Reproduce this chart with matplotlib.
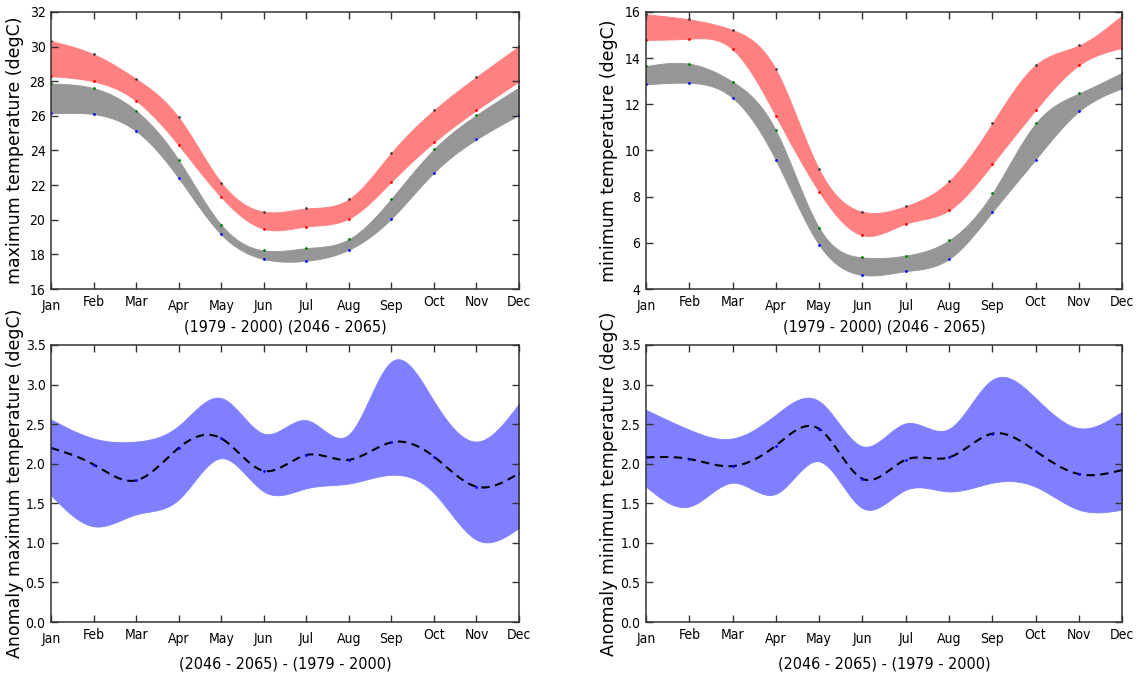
import numpy as np
import matplotlib
matplotlib.use('Agg')
import matplotlib.pyplot as plt
from matplotlib import font_manager
from matplotlib.transforms import ScaledTranslation

months = ['Jan', 'Feb', 'Mar', 'Apr', 'May', 'Jun',
          'Jul', 'Aug', 'Sep', 'Oct', 'Nov', 'Dec']
month_num = np.arange(1, 13)

# maximum temperature (degC), band edges per month
tmax_base_hi = [27.87, 27.60, 26.30, 23.45, 19.71, 18.23, 18.36, 18.88, 21.22, 24.07, 26.05, 27.64]
tmax_base_lo = [26.14, 26.10, 25.12, 22.40, 19.15, 17.73, 17.63, 18.27, 20.07, 22.72, 24.64, 26.05]
tmax_fut_hi = [30.33, 29.56, 28.14, 25.91, 22.15, 20.47, 20.65, 21.19, 23.87, 26.33, 28.25, 30.02]
tmax_fut_lo = [28.29, 27.99, 26.87, 24.30, 21.30, 19.48, 19.61, 20.07, 22.20, 24.47, 26.33, 27.99]

# minimum temperature (degC)
tmin_base_hi = [13.66, 13.76, 12.98, 10.87, 6.65, 5.37, 5.45, 6.11, 8.14, 11.17, 12.47, 13.37]
tmin_base_lo = [12.86, 12.93, 12.28, 9.58, 5.91, 4.61, 4.77, 5.30, 7.33, 9.61, 11.69, 12.70]
tmin_fut_hi = [15.90, 15.68, 15.22, 13.51, 9.18, 7.35, 7.59, 8.67, 11.17, 13.70, 14.55, 15.86]
tmin_fut_lo = [14.79, 14.84, 14.38, 11.49, 8.21, 6.33, 6.83, 7.41, 9.41, 11.75, 13.69, 14.44]

# anomalies (2046-2065) - (1979-2000)
anom_max_hi = [2.56, 2.32, 2.28, 2.48, 2.83, 2.38, 2.55, 2.37, 3.29, 2.79, 2.28, 2.76]
anom_max_lo = [1.60, 1.21, 1.36, 1.55, 2.07, 1.65, 1.69, 1.75, 1.86, 1.63, 1.04, 1.19]
anom_max_mean = [2.20, 1.99, 1.79, 2.20, 2.32, 1.91, 2.11, 2.05, 2.27, 2.09, 1.71, 1.88]

anom_min_hi = [2.68, 2.43, 2.32, 2.62, 2.79, 2.22, 2.51, 2.44, 3.06, 2.83, 2.45, 2.66]
anom_min_lo = [1.71, 1.46, 1.76, 1.62, 2.03, 1.44, 1.67, 1.65, 1.76, 1.71, 1.42, 1.42]
anom_min_mean = [2.08, 2.06, 1.97, 2.23, 2.44, 1.81, 2.05, 2.08, 2.38, 2.16, 1.87, 1.92]

# the original uses a narrow face for ticks and x labels; use one if we have it
narrow = None
for f in font_manager.fontManager.ttflist:
    if 'Narrow' in f.name or 'Condensed' in f.name or f.stretch in ('condensed', 'semi-condensed'):
        narrow = (f.name, f.stretch)
        break
if narrow:
    tick_font = dict(family=narrow[0], stretch=narrow[1], size=10)
    xlab_font = dict(family=narrow[0], stretch=narrow[1], size=11.5)
else:
    tick_font = dict(family='DejaVu Sans', size=9)
    xlab_font = dict(family='DejaVu Sans', size=10.5)

plt.rcParams['lines.scale_dashes'] = False


def spline(x, y, n=400):
    # natural cubic spline through the monthly values (for a smooth outline)
    x = np.asarray(x, float)
    y = np.asarray(y, float)
    h = np.diff(x)
    m = len(x)
    A = np.zeros((m, m))
    r = np.zeros(m)
    A[0, 0] = A[-1, -1] = 1
    for i in range(1, m - 1):
        A[i, i - 1] = h[i - 1]
        A[i, i] = 2 * (h[i - 1] + h[i])
        A[i, i + 1] = h[i]
        r[i] = 3 * ((y[i + 1] - y[i]) / h[i] - (y[i] - y[i - 1]) / h[i - 1])
    c = np.linalg.solve(A, r)
    b = (y[1:] - y[:-1]) / h - h * (2 * c[:-1] + c[1:]) / 3
    d = (c[1:] - c[:-1]) / (3 * h)
    xs = np.linspace(x[0], x[-1], n)
    k = np.clip(np.searchsorted(x, xs, side='right') - 1, 0, m - 2)
    t = xs - x[k]
    return xs, y[k] + b[k] * t + c[k] * t ** 2 + d[k] * t ** 3


def band(ax, lo, hi, color):
    xs, ylo = spline(month_num, lo)
    _, yhi = spline(month_num, hi)
    ax.fill_between(xs, ylo, yhi, facecolor=color, edgecolor=color, lw=0.6)


def style(ax, ylabel, xlabel, ylim, yticks, ytick_labels, xlab_y):
    ax.set_xlim(1, 12)
    ax.set_ylim(*ylim)
    ax.set_yticks(yticks)
    ax.set_yticklabels(ytick_labels, **tick_font)
    ax.set_xticks(month_num)
    ax.set_xticklabels(months, **tick_font)
    ax.tick_params(direction='in', top=True, right=True, length=5, width=1,
                   pad=4, color='#333333')
    # month names with descenders sit a little lower, as in the original
    shift = ScaledTranslation(0, -3.5 / 72, ax.figure.dpi_scale_trans)
    for lbl in ax.get_xticklabels():
        if lbl.get_text() in ('Jan', 'Apr', 'May', 'Jun', 'Jul', 'Aug', 'Sep'):
            lbl.set_transform(lbl.get_transform() + shift)
    for s in ax.spines.values():
        s.set_color('#333333')
        s.set_linewidth(1.1)
    ax.set_ylabel(ylabel, fontsize=12.5, va='center')
    ax.yaxis.set_label_coords(-0.078, 0.5)
    ax.set_xlabel(xlabel, va='center', **xlab_font)
    ax.xaxis.set_label_coords(0.5, xlab_y)


fig = plt.figure(figsize=(11.37, 6.77), dpi=100)
ax1 = fig.add_axes([0.0449, 0.5731, 0.4116, 0.4092])
ax2 = fig.add_axes([0.5682, 0.5731, 0.4187, 0.4092])
ax3 = fig.add_axes([0.0449, 0.0812, 0.4116, 0.4092])
ax4 = fig.add_axes([0.5682, 0.0812, 0.4187, 0.4092])

top_label = '(1979 - 2000) (2046 - 2065)'
bot_label = '(2046 - 2065) - (1979 - 2000)'

for ax, bhi, blo, fhi, flo in [(ax1, tmax_base_hi, tmax_base_lo, tmax_fut_hi, tmax_fut_lo),
                               (ax2, tmin_base_hi, tmin_base_lo, tmin_fut_hi, tmin_fut_lo)]:
    band(ax, blo, bhi, '#969696')
    band(ax, flo, fhi, '#ff8080')
    ax.plot(month_num, bhi, '.', ms=2, color='green')
    ax.plot(month_num, blo, '.', ms=2, color='blue')
    ax.plot(month_num, fhi, '.', ms=2, color='#444444')
    ax.plot(month_num, flo, '.', ms=2, color='red')

for ax, hi, lo, mean in [(ax3, anom_max_hi, anom_max_lo, anom_max_mean),
                         (ax4, anom_min_hi, anom_min_lo, anom_min_mean)]:
    band(ax, lo, hi, '#7f7fff')
    xs, ym = spline(month_num, mean)
    ax.plot(xs, ym, color='black', lw=1.5, dashes=(6, 4))
    ax.plot(month_num, mean, '.', ms=2, color='blue')

tmax_ticks = np.arange(16, 33, 2)
tmin_ticks = np.arange(4, 17, 2)
anom_ticks = np.arange(0, 3.51, 0.5)

style(ax1, 'maximum temperature (degC)', top_label, (16, 32), tmax_ticks,
      ['%d' % v for v in tmax_ticks], -0.137)
style(ax2, 'minimum temperature (degC)', top_label, (4, 16), tmin_ticks,
      ['%d' % v for v in tmin_ticks], -0.137)
style(ax3, 'Anomaly maximum temperature (degC)', bot_label, (0, 3.5), anom_ticks,
      ['%.1f' % v for v in anom_ticks], -0.152)
style(ax4, 'Anomaly minimum temperature (degC)', bot_label, (0, 3.5), anom_ticks,
      ['%.1f' % v for v in anom_ticks], -0.152)

fig.savefig('out.png', dpi=100)
